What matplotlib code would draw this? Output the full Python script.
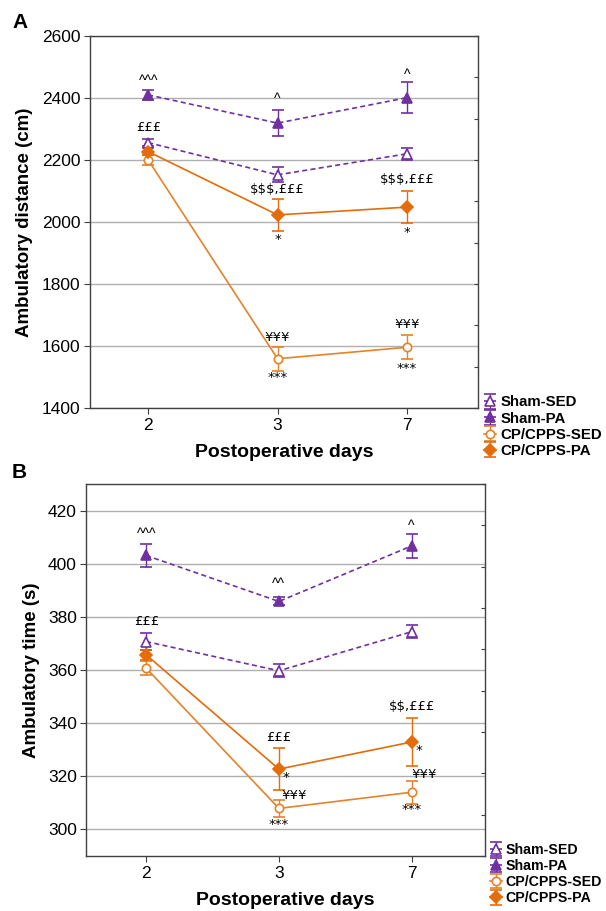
import numpy as np
import matplotlib
matplotlib.use("Agg")
import matplotlib.pyplot as plt

plt.rcParams['font.family'] = ['Liberation Sans', 'DejaVu Sans']
plt.rcParams['text.parse_math'] = False

days = ["2", "3", "7"]
groups = ["Sham-SED", "Sham-PA", "CP/CPPS-SED", "CP/CPPS-PA"]

# Panel A: ambulatory distance (cm)
dist_sham_sed = [2256, 2152, 2220]
dist_sham_sed_err = [12, 24, 20]
dist_sham_pa = [2410, 2319, 2401]
dist_sham_pa_err = [15, 41, 49]
dist_cp_sed = [2200, 1559, 1596]
dist_cp_sed_err = [15, 39, 39]
dist_cp_pa = [2227, 2023, 2048]
dist_cp_pa_err = [12, 52, 52]

# Panel B: ambulatory time (s)
time_sham_sed = [370.7, 359.7, 374.4]
time_sham_sed_err = [3.3, 2.4, 2.4]
time_sham_pa = [403.1, 385.8, 406.7]
time_sham_pa_err = [4.4, 1.5, 4.4]
time_cp_sed = [360.7, 307.9, 314.0]
time_cp_sed_err = [2.7, 3.1, 4.3]
time_cp_pa = [365.7, 322.7, 332.9]
time_cp_pa_err = [2.0, 8.0, 9.1]

# annotations: (day index, y value, text, x offset in points)
annot_a = [
    (0, 2455, "^^^", 0), (1, 2397, "^", 0), (2, 2474, "^", 0),
    (0, 2305, "£££", 0),
    (1, 2104, "$$$,£££", 0), (2, 2136, "$$$,£££", 0),
    (1, 1945, "*", 0), (2, 1967, "*", 0),
    (1, 1626, "¥¥¥", 0), (2, 1669, "¥¥¥", 0),
    (1, 1497, "***", 0), (2, 1529, "***", 0),
]
annot_b = [
    (0, 411.2, "^^^", 0), (1, 392.4, "^^", 0), (2, 414.2, "^", 0),
    (0, 378.2, "£££", 0),
    (1, 334.6, "£££", 0), (2, 346.3, "$$,£££", 0),
    (1, 319.6, "*", 5), (2, 329.6, "*", 5),
    (1, 312.7, "¥¥¥", 11), (2, 320.6, "¥¥¥", 9),
    (1, 301.8, "***", 0), (2, 307.6, "***", 0),
]

PURPLE = "#7030A0"
ORANGE = "#E46C0A"
ORANGE_L = "#E5822A"

fig = plt.figure(figsize=(6.06, 9.11), dpi=100)

def draw(rect, series, ylim, yticks, ylabel, annots, panel, panel_xy, legsize):
    ax = fig.add_axes(rect)
    x = np.arange(len(days))
    styles = [
        dict(color=PURPLE, ls=(0, (3, 2)), marker='^', mfc='white', mec=PURPLE, ms=7),
        dict(color=PURPLE, ls=(0, (3, 2)), marker='^', mfc=PURPLE, mec=PURPLE, ms=7),
        dict(color=ORANGE_L, ls='-', marker='o', mfc='white', mec=ORANGE_L, ms=6),
        dict(color=ORANGE, ls='-', marker='D', mfc=ORANGE, mec=ORANGE, ms=6),
    ]
    handles = []
    for (vals, errs), name, st in zip(series, groups, styles):
        h = ax.errorbar(x, vals, yerr=errs, color=st['color'], ls=st['ls'], lw=1.2,
                        marker=st['marker'], mfc=st['mfc'], mec=st['mec'], mew=1.2,
                        ms=st['ms'], capsize=4, elinewidth=1.0, capthick=1.0,
                        label=name, zorder=3)
        handles.append(h)
    ax.set_xlim(-0.45, 2.55)
    ax.set_ylim(*ylim)
    ax.set_xticks(x)
    ax.set_xticklabels(days)
    ax.set_yticks(yticks)
    ax.yaxis.grid(True, color='#b0b0b0', lw=1.0)
    ax.set_axisbelow(True)
    for s in ax.spines.values():
        s.set_color('#404040')
        s.set_linewidth(1.0)
    ax.tick_params(axis='both', labelsize=12.5, length=4, color='#404040', pad=3)
    ax.set_ylabel(ylabel, fontsize=13.5, fontweight='bold', labelpad=6)
    ax.set_xlabel("Postoperative days", fontsize=14, fontweight='bold', labelpad=8)
    ax2 = ax.twinx()
    ax2.set_ylim(*ylim)
    ax2.set_yticks(np.linspace(ylim[0], ylim[1], 10))
    ax2.tick_params(axis='y', direction='in', length=3, labelright=False, color='#404040')
    for s in ax2.spines.values():
        s.set_visible(False)
    for (i, yv, txt, dx) in annots:
        if txt.startswith("^"):
            fam, fs = ['Liberation Sans'], 10
        else:
            fam, fs = ['DejaVu Sans'], 9.5
        ax.annotate(txt, (x[i], yv), xytext=(dx, 0), textcoords='offset points',
                    ha='center', va='center', fontsize=fs, color='black',
                    family=fam)
    ax.legend(handles=handles, loc='upper left', bbox_to_anchor=(1.0, 0.05),
              frameon=False, borderaxespad=0, handlelength=0.8, handletextpad=0.3,
              labelspacing=0.15, prop=dict(size=legsize, weight='bold'))
    fig.text(panel_xy[0], panel_xy[1], panel, fontsize=15, fontweight='bold',
             ha='left', va='center')
    return ax

draw([0.1485, 0.5521, 0.6403, 0.4084],
     [(dist_sham_sed, dist_sham_sed_err), (dist_sham_pa, dist_sham_pa_err),
      (dist_cp_sed, dist_cp_sed_err), (dist_cp_pa, dist_cp_pa_err)],
     (1400, 2600), [1400, 1600, 1800, 2000, 2200, 2400, 2600],
     "Ambulatory distance (cm)", annot_a, "A", (12 / 606, 1 - 23 / 911), 10.8)

draw([0.1427, 0.0604, 0.657, 0.4083],
     [(time_sham_sed, time_sham_sed_err), (time_sham_pa, time_sham_pa_err),
      (time_cp_sed, time_cp_sed_err), (time_cp_pa, time_cp_pa_err)],
     (290, 430), [300, 320, 340, 360, 380, 400, 420],
     "Ambulatory time (s)", annot_b, "B", (12 / 606, 1 - 472 / 911), 10.2)

fig.savefig("out.png", dpi=100)
